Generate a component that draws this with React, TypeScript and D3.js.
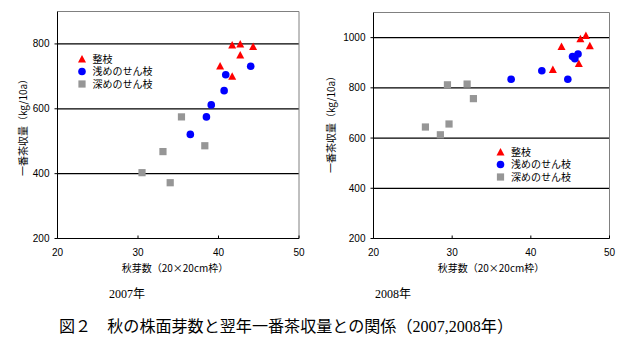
import React from "react";
import * as d3 from "d3";

// 2007
const prune07X = [41.7, 42.7, 44.3, 42.7, 40.2, 41.7];
const prune07Y = [797, 800, 792, 766, 732, 700];
const shallow07X = [44.0, 40.9, 40.7, 39.1, 38.5, 36.5];
const shallow07Y = [731, 705, 656, 612, 575, 521];
const deep07X = [35.4, 38.3, 33.1, 30.5, 34.0];
const deep07Y = [575, 486, 468, 403, 372];

// 2008
const prune08X = [47.0, 46.3, 43.9, 47.5, 46.1, 42.8];
const prune08Y = [1008, 995, 965, 968, 897, 873];
const shallow08X = [46.0, 45.3, 45.6, 41.4, 44.7, 37.5];
const shallow08Y = [935, 925, 916, 868, 834, 834];
const deep08X = [29.4, 31.9, 32.7, 26.6, 29.6, 28.5];
const deep08Y = [812, 815, 757, 644, 656, 613];

const xTicks = [20, 30, 40, 50];
const yTicks07 = [200, 400, 600, 800];
const yTicks08 = [200, 400, 600, 800, 1000];
const seriesNames = ["整枝", "浅めのせん枝", "深めのせん枝"];
const xTitle = "秋芽数（20×20cm枠）";
const yTitle = "一番茶収量（kg/10a）";
const yearLabels = ["2007年", "2008年"];
const caption = "図２　秋の株面芽数と翌年一番茶収量との関係（2007,2008年）";

const RED = "#ff0000";
const BLUE = "#0000ff";
const GRAY = "#969696";
const FONT = "Arial, 'Liberation Sans', 'Noto Sans CJK JP', sans-serif";
const CJK = "'Noto Sans CJK JP', sans-serif";

function Marker({ kind, x, y }: { kind: number; x: number; y: number }) {
  if (kind === 0) {
    const s = 8;
    const h = 7;
    return (
      <path
        d={`M${x},${y - h / 2 - 0.5}L${x + s / 2},${y + h / 2}L${x - s / 2},${y + h / 2}Z`}
        fill={RED}
      />
    );
  }
  if (kind === 1) return <circle cx={x} cy={y} r={3.8} fill={BLUE} />;
  return <rect x={x - 3.6} y={y - 3.6} width={7.2} height={7.2} fill={GRAY} />;
}

function Panel({
  x0, x1, y0, y1, yDomain, yTicks, series, legendX, legendY, yTitleX, yTitleY, xTitleX,
}: any) {
  const xs = d3.scaleLinear().domain([20, 50]).range([x0, x1]);
  const ys = d3.scaleLinear().domain(yDomain).range([y1, y0]);
  return (
    <g>
      {yTicks.filter((t: number) => t !== yDomain[0]).map((t: number) => (
        <line key={"g" + t} x1={x0} x2={x1} y1={ys(t)} y2={ys(t)} stroke="#000" strokeWidth={1.2} />
      ))}
      <line x1={x0} x2={x1} y1={y0} y2={y0} stroke="#808080" strokeWidth={1} />
      <line x1={x1} x2={x1} y1={y0} y2={y1} stroke="#808080" strokeWidth={1} />
      <line x1={x0} x2={x0} y1={y0} y2={y1} stroke="#000" strokeWidth={1} />
      <line x1={x0} x2={x1} y1={y1} y2={y1} stroke="#000" strokeWidth={1.2} />
      {yTicks.map((t: number) => (
        <g key={"y" + t}>
          <line x1={x0 - 3} x2={x0} y1={ys(t)} y2={ys(t)} stroke="#000" />
          <text x={x0 - 8} y={ys(t)} dy="0.35em" textAnchor="end" fontSize={10} fontFamily={FONT}>
            {t}
          </text>
        </g>
      ))}
      {xTicks.map((t) => (
        <g key={"x" + t}>
          <line x1={xs(t)} x2={xs(t)} y1={y1} y2={y1 - 3} stroke="#000" />
          <text x={xs(t)} y={y1 + 17} textAnchor="middle" fontSize={10} fontFamily={FONT}>
            {t}
          </text>
        </g>
      ))}
      <text x={xTitleX} y={y1 + 33} textAnchor="middle" fontSize={10} fontFamily={CJK}>
        {xTitle}
      </text>
      <text
        transform={`translate(${yTitleX},${yTitleY}) rotate(-90)`}
        textAnchor="middle"
        dy="0.35em"
        fontSize={10}
        fontFamily={CJK}
      >
        {yTitle}
      </text>
      {series.map((s: any, k: number) =>
        s.x.map((v: number, i: number) => <Marker key={k + "-" + i} kind={k} x={xs(v)} y={ys(s.y[i])} />)
      )}
      {seriesNames.map((n, k) => (
        <g key={"l" + k}>
          <Marker kind={k} x={legendX} y={legendY + k * 12.5} />
          <text x={legendX + 10.5} y={legendY + k * 12.5} dy="0.35em" fontSize={10} fontFamily={CJK}>
            {n}
          </text>
        </g>
      ))}
    </g>
  );
}

export default function App() {
  return (
    <svg width={632} height={339} style={{ position: "absolute", left: 0, top: 0, background: "#fff" }}>
      <rect width={632} height={339} fill="#fff" />
      <Panel
        x0={57.5} x1={299} y0={11.5} y1={238.5}
        yDomain={[200, 900]} yTicks={yTicks07}
        series={[
          { x: prune07X, y: prune07Y },
          { x: shallow07X, y: shallow07Y },
          { x: deep07X, y: deep07Y },
        ]}
        legendX={82} legendY={59} yTitleX={23} yTitleY={125} xTitleX={175}
      />
      <Panel
        x0={373.5} x1={609.5} y0={12.5} y1={238.5}
        yDomain={[200, 1100]} yTicks={yTicks08}
        series={[
          { x: prune08X, y: prune08Y },
          { x: shallow08X, y: shallow08Y },
          { x: deep08X, y: deep08Y },
        ]}
        legendX={500.5} legendY={152} yTitleX={331} yTitleY={122} xTitleX={491}
      />
      <text x={127} y={298} textAnchor="middle" fontSize={12} fontFamily="'Liberation Serif', 'Noto Sans CJK JP', serif">
        {yearLabels[0]}
      </text>
      <text x={393} y={298} textAnchor="middle" fontSize={12} fontFamily="'Liberation Serif', 'Noto Sans CJK JP', serif">
        {yearLabels[1]}
      </text>
      <text x={59} y={332} fontSize={16} textLength={454} lengthAdjust="spacingAndGlyphs" fontFamily="'Liberation Serif', 'Noto Sans CJK JP', serif">
        {caption}
      </text>
    </svg>
  );
}
